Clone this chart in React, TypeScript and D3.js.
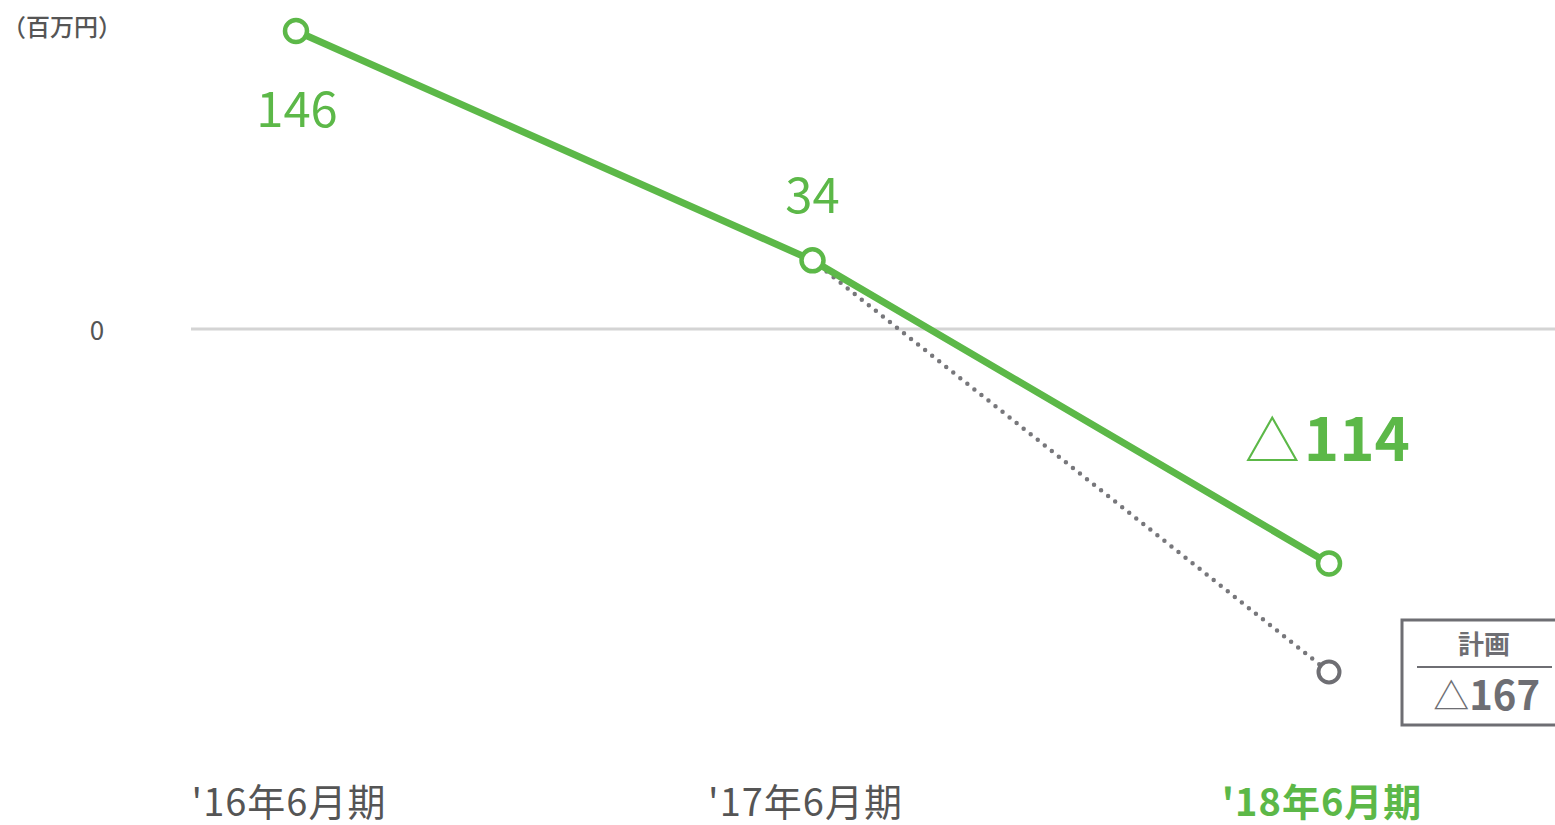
import React, { useEffect, useRef } from 'react';
import * as d3 from 'd3';

const periods = ["'16年6月期", "'17年6月期", "'18年6月期"];
const actual = [146, 34, -114];
const valueLabels = ['146', '34', '△114'];
const planFrom = 34;
const planValue = -167;
const planLabel = '△167';
const unitLabel = '（百万円）';

const GREEN = '#5cb848';
const GRAY = '#6e6e73';
const FONT = '"Noto Sans CJK JP", "Noto Sans", sans-serif';

const App: React.FC = () => {
  const svgRef = useRef<SVGSVGElement>(null);

  useEffect(() => {
    if (!svgRef.current) return;
    const svg = d3.select(svgRef.current);
    svg.selectAll('*').remove();

    const x = d3.scalePoint<string>().domain(periods).range([296, 1329]);
    const y = d3.scaleLinear().domain([-167, 146]).range([672, 31]);

    // zero line
    svg.append('line')
      .attr('x1', 191).attr('x2', 1555)
      .attr('y1', y(0) - 1).attr('y2', y(0) - 1)
      .attr('stroke', '#d4d4d4').attr('stroke-width', 3);

    svg.append('text')
      .attr('x', 97).attr('y', y(0) + 10)
      .attr('text-anchor', 'middle')
      .attr('font-size', 26).attr('fill', '#555')
      .attr('font-family', FONT)
      .text('0');

    svg.append('text')
      .attr('x', 2).attr('y', 36)
      .attr('font-size', 24).attr('font-weight', 500).attr('fill', '#555')
      .attr('font-family', FONT)
      .text(unitLabel);

    // plan dotted line
    svg.append('line')
      .attr('x1', x(periods[1])!).attr('y1', y(planFrom))
      .attr('x2', x(periods[2])!).attr('y2', y(planValue))
      .attr('stroke', '#77777b').attr('stroke-width', 4.5)
      .attr('stroke-linecap', 'round')
      .attr('stroke-dasharray', '0 9');

    svg.append('circle')
      .attr('cx', x(periods[2])!).attr('cy', y(planValue))
      .attr('r', 10.5)
      .attr('fill', '#fff').attr('stroke', GRAY).attr('stroke-width', 4);

    // actual line
    const line = d3.line<number>()
      .x((_, i) => x(periods[i])!)
      .y(d => y(d));

    svg.append('path')
      .datum(actual)
      .attr('d', line)
      .attr('fill', 'none')
      .attr('stroke', GREEN)
      .attr('stroke-width', 7);

    svg.selectAll('circle.pt')
      .data(actual)
      .enter()
      .append('circle')
      .attr('class', 'pt')
      .attr('cx', (_, i) => x(periods[i])!)
      .attr('cy', d => y(d))
      .attr('r', 11)
      .attr('fill', '#fff')
      .attr('stroke', GREEN)
      .attr('stroke-width', 4.5);

    // value labels
    svg.append('text')
      .attr('x', x(periods[0])! + 1).attr('y', 127)
      .attr('text-anchor', 'middle')
      .attr('font-size', 49).attr('fill', GREEN)
      .attr('font-family', FONT)
      .text(valueLabels[0]);

    svg.append('text')
      .attr('x', x(periods[1])!).attr('y', 213)
      .attr('text-anchor', 'middle')
      .attr('font-size', 49).attr('fill', GREEN)
      .attr('font-family', FONT)
      .text(valueLabels[1]);

    const neg = svg.append('text')
      .attr('x', 1410).attr('y', 461)
      .attr('text-anchor', 'end')
      .attr('fill', GREEN)
      .attr('font-family', FONT);
    neg.append('tspan').attr('font-size', 55).attr('font-weight', 400).text(valueLabels[2].slice(0, 1));
    neg.append('tspan').attr('font-size', 60).attr('font-weight', 700).attr('dx', 4).text(valueLabels[2].slice(1));

    // plan box
    svg.append('rect')
      .attr('x', 1402).attr('y', 620)
      .attr('width', 170).attr('height', 105)
      .attr('fill', '#fff').attr('stroke', GRAY).attr('stroke-width', 3);
    svg.append('line')
      .attr('x1', 1417).attr('x2', 1552)
      .attr('y1', 667).attr('y2', 667)
      .attr('stroke', GRAY).attr('stroke-width', 2);
    svg.append('text')
      .attr('x', 1484).attr('y', 654)
      .attr('text-anchor', 'middle')
      .attr('font-size', 26).attr('font-weight', 700).attr('fill', GRAY)
      .attr('font-family', FONT)
      .text('計画');
    const plan = svg.append('text')
      .attr('x', 1540).attr('y', 710)
      .attr('text-anchor', 'end')
      .attr('fill', GRAY)
      .attr('font-family', FONT);
    plan.append('tspan').attr('font-size', 36).attr('font-weight', 400).text(planLabel.slice(0, 1));
    plan.append('tspan').attr('font-size', 40).attr('font-weight', 700).text(planLabel.slice(1));

    // x labels
    svg.selectAll('text.xl')
      .data(periods)
      .enter()
      .append('text')
      .attr('class', 'xl')
      .attr('x', d => x(d)! - 7)
      .attr('y', 816)
      .attr('text-anchor', 'middle')
      .attr('font-size', 38)
      .attr('letter-spacing', 1)
      .attr('font-weight', (_, i) => (i === 2 ? 700 : 400))
      .attr('fill', (_, i) => (i === 2 ? GREEN : '#555'))
      .attr('font-family', FONT)
      .text(d => d);
  }, []);

  return (
    <svg ref={svgRef} width={1555} height={825}
      style={{ position: 'absolute', left: 0, top: 0, background: '#fff' }} />
  );
};

export default App;
